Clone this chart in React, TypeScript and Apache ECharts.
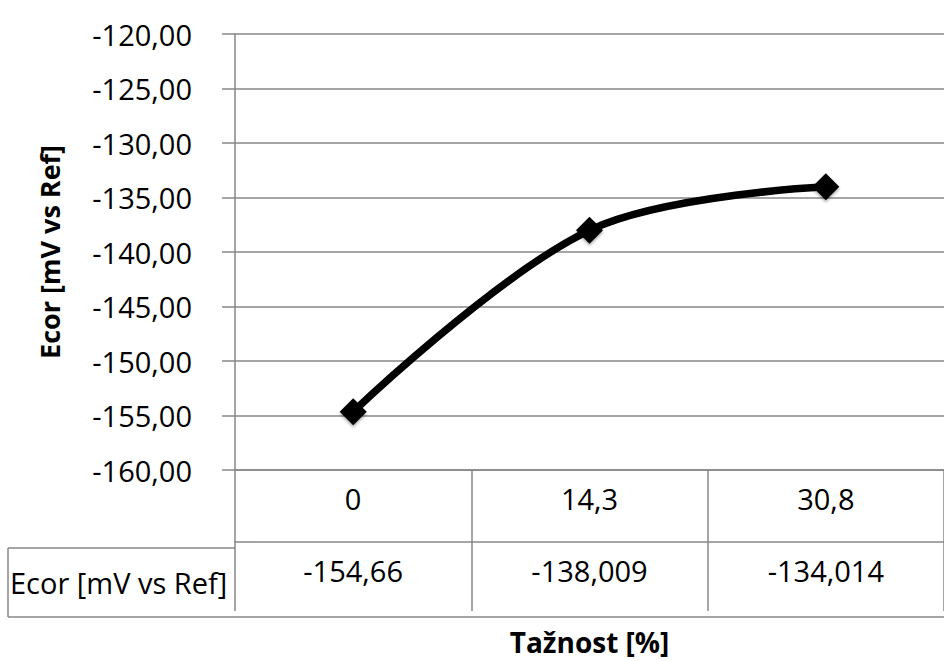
import React, { useEffect, useRef } from "react";
import * as echarts from "echarts";

// Elongation categories (%) and corrosion potential readings
const categories: string[] = ["0", "14,3", "30,8"];
const ecorValues: number[] = [-154.66, -138.009, -134.014];
const seriesName = "Ecor [mV vs Ref]";
const xTitle = "Tažnost [%]";
const yTitle = "Ecor [mV vs Ref]";

const FONT = "Open Sans";
const GRID_COLOR = "#878787";

const fmtComma = (v: number) => String(v).replace(".", ",");

export default function App() {
  const ref = useRef<HTMLDivElement>(null);

  useEffect(() => {
    if (!ref.current) return;
    const chart = echarts.init(ref.current, undefined, { renderer: "svg" });

    const lineStyle = { color: GRID_COLOR, width: 1.5 };

    chart.setOption({
      animation: false,
      backgroundColor: "#ffffff",
      textStyle: { fontFamily: FONT, color: "#000" },
      grid: { left: 235, top: 34, width: 723, height: 442, containLabel: false },
      xAxis: [
        {
          type: "category",
          data: categories,
          boundaryGap: true,
          position: "bottom",
          axisLine: { show: true, lineStyle },
          axisTick: { show: true, length: 141, lineStyle, alignWithLabel: false },
          axisLabel: { fontFamily: FONT, fontSize: 29, color: "#000", margin: 14 },
          splitLine: { show: false },
          name: xTitle,
          nameLocation: "middle",
          nameGap: 158,
          nameTextStyle: { fontFamily: FONT, fontSize: 28, fontWeight: "bold", color: "#000" },
        },
        {
          type: "category",
          data: ecorValues.map(fmtComma),
          boundaryGap: true,
          position: "bottom",
          offset: 72,
          axisLine: { show: true, lineStyle },
          axisTick: { show: false },
          axisLabel: { fontFamily: FONT, fontSize: 29, color: "#000", margin: 14 },
          splitLine: { show: false },
        },
      ],
      yAxis: {
        type: "value",
        min: -160,
        max: -120,
        interval: 5,
        axisLine: { show: true, lineStyle },
        axisTick: { show: true, length: 13, lineStyle },
        axisLabel: {
          fontFamily: FONT,
          fontSize: 29,
          color: "#000",
          margin: 43,
          formatter: (v: number) => v.toFixed(2).replace(".", ","),
        },
        splitLine: { show: true, lineStyle },
        name: yTitle,
        nameLocation: "middle",
        nameRotate: 90,
        nameGap: 172,
        nameTextStyle: { fontFamily: FONT, fontSize: 27, fontWeight: "bold", color: "#000" },
      },
      series: [
        {
          name: seriesName,
          type: "line",
          data: ecorValues,
          xAxisIndex: 0,
          smooth: 0.35,
          lineStyle: { color: "#000", width: 7.5, cap: "round" },
          symbol: "diamond",
          symbolSize: 27,
          itemStyle: { color: "#000", shadowColor: "rgba(0,0,0,0.35)", shadowBlur: 3, shadowOffsetY: 2 },
          showSymbol: true,
          z: 5,
        },
      ],
      graphic: [
        // data table: row-header cell borders and bottom rule
        { type: "line", shape: { x1: 8, y1: 548, x2: 235, y2: 548 }, style: { stroke: GRID_COLOR, lineWidth: 1.5 } },
        { type: "line", shape: { x1: 8, y1: 617, x2: 944, y2: 617 }, style: { stroke: GRID_COLOR, lineWidth: 1.5 } },
        { type: "line", shape: { x1: 8, y1: 548, x2: 8, y2: 617 }, style: { stroke: GRID_COLOR, lineWidth: 1.5 } },
        {
          type: "text",
          x: 10,
          y: 582,
          style: {
            text: seriesName,
            fontFamily: FONT,
            fontSize: 29,
            fill: "#000",
            textAlign: "left",
            textVerticalAlign: "middle",
          },
        },
      ],
    });

    return () => chart.dispose();
  }, []);

  return (
    <div
      ref={ref}
      style={{ position: "absolute", left: 0, top: 0, width: 944, height: 661, background: "#fff" }}
    />
  );
}
